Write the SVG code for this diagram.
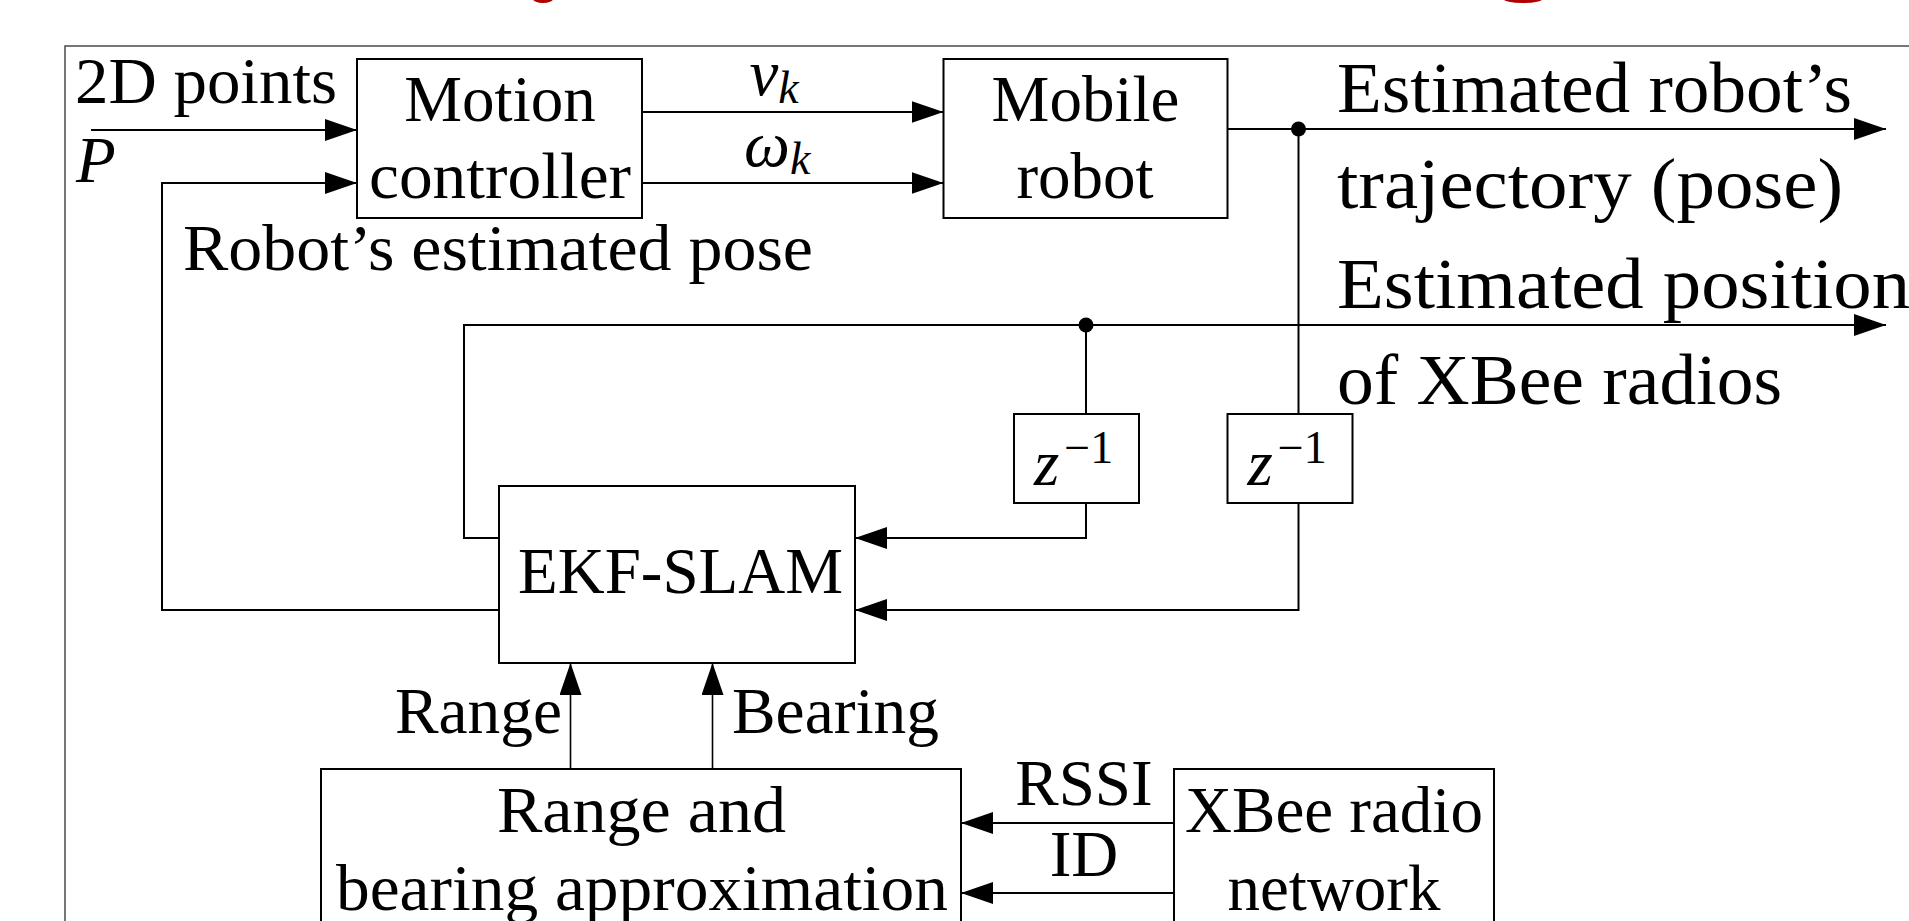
<svg xmlns="http://www.w3.org/2000/svg" width="1909" height="921" viewBox="0 0 1909 921">
<style>
text{font-family:"Liberation Serif","DejaVu Serif",serif;fill:#000;font-size:65px}
.big{font-size:72px}
.sub{font-size:46px}
.it{font-style:italic}
.up{font-style:normal}
.mid{text-anchor:middle}
.box{fill:#fff;stroke:#000;stroke-width:2}
.wire{fill:none;stroke:#000;stroke-width:2}
.thin{fill:none;stroke:#000;stroke-width:1.6}
</style>
<defs>
<marker id="arr" markerUnits="userSpaceOnUse" markerWidth="32" markerHeight="22" refX="32" refY="11" orient="auto" viewBox="0 0 32 22">
<path d="M0,0 L32,11 L0,22 z" fill="#000"/>
</marker>
</defs>
<rect width="1909" height="921" fill="#fff"/>
<g id="title-fragments">
<ellipse cx="543" cy="-1" rx="10" ry="4" fill="#b00000"/>
<ellipse cx="1523" cy="-1.5" rx="20" ry="4.5" fill="#b00000"/>
</g>
<rect id="frame" x="65" y="46" width="1900" height="920" fill="none" stroke="#555" stroke-width="1.6"/>
<g id="connectors">
<path class="wire" d="M91,130 H357" marker-end="url(#arr)"/>
<path class="wire" d="M499,610 H162 V183 H357" marker-end="url(#arr)"/>
<path class="wire" d="M642,112 H943.5" marker-end="url(#arr)"/>
<path class="wire" d="M642,183 H943.5" marker-end="url(#arr)"/>
<path class="wire" d="M1228,129 H1886" marker-end="url(#arr)"/>
<path class="wire" d="M1298.5,129 V414"/>
<path class="wire" d="M1298.5,503 V610 H855" marker-end="url(#arr)"/>
<path class="wire" d="M499,538 H464 V325 H1886" marker-end="url(#arr)"/>
<path class="wire" d="M1086,325 V414"/>
<path class="wire" d="M1086,503 V538 H855" marker-end="url(#arr)"/>
<path class="thin" d="M570.5,769 V663" marker-end="url(#arr)"/>
<path class="thin" d="M712.5,769 V663" marker-end="url(#arr)"/>
<path class="wire" d="M1174,823 H961" marker-end="url(#arr)"/>
<path class="wire" d="M1174,893 H961" marker-end="url(#arr)"/>
<circle cx="1298.5" cy="129" r="7.5" fill="#000"/>
<circle cx="1086" cy="325" r="7.5" fill="#000"/>
</g>
<g id="labels">
<text x="75" y="103" textLength="262" lengthAdjust="spacingAndGlyphs">2D points</text>
<text class="it" x="76" y="182" font-size="68">P</text>
<text class="it" x="749.5" y="95">ν<tspan class="sub" dy="8">k</tspan></text>
<text class="it" x="744" y="166">ω<tspan class="sub" dy="8">k</tspan></text>
<text x="183" y="270" textLength="630" lengthAdjust="spacingAndGlyphs">Robot’s estimated pose</text>
<text class="big" x="1337" y="112" textLength="515" lengthAdjust="spacingAndGlyphs">Estimated robot’s</text>
<text class="big" x="1337" y="208" textLength="506" lengthAdjust="spacingAndGlyphs">trajectory (pose)</text>
<text class="big" x="1337" y="308" textLength="573" lengthAdjust="spacingAndGlyphs">Estimated position</text>
<text class="big" x="1337" y="404" textLength="445" lengthAdjust="spacingAndGlyphs">of XBee radios</text>
<text x="395" y="733" textLength="167" lengthAdjust="spacingAndGlyphs">Range</text>
<text x="732" y="733" textLength="207" lengthAdjust="spacingAndGlyphs">Bearing</text>
<text class="mid" x="1084" y="805">RSSI</text>
<text class="mid" x="1084" y="876">ID</text>
</g>
<g id="motion-controller">
<rect class="box" x="357" y="59" width="285" height="159"/>
<text class="mid" x="500" y="121">Motion</text>
<text class="mid" x="500" y="198" textLength="262" lengthAdjust="spacingAndGlyphs">controller</text>
</g>
<g id="mobile-robot">
<rect class="box" x="943.5" y="59" width="284" height="159"/>
<text class="mid" x="1085.5" y="121">Mobile</text>
<text class="mid" x="1085" y="198">robot</text>
</g>
<g id="delay-1">
<rect class="box" x="1014" y="414" width="125" height="89"/>
<text class="it" x="1034" y="485" font-size="72">z<tspan class="sub up" dx="5" dy="-22">−1</tspan></text>
</g>
<g id="delay-2">
<rect class="box" x="1227.5" y="414" width="125" height="89"/>
<text class="it" x="1247.5" y="485" font-size="72">z<tspan class="sub up" dx="5" dy="-22">−1</tspan></text>
</g>
<g id="ekf-slam">
<rect class="box" x="499" y="486" width="356" height="177"/>
<text x="518" y="593" textLength="325" lengthAdjust="spacingAndGlyphs">EKF-SLAM</text>
</g>
<g id="range-bearing">
<rect class="box" x="321" y="769" width="640" height="190"/>
<text class="mid" x="641.5" y="832" textLength="289" lengthAdjust="spacingAndGlyphs">Range and</text>
<text class="mid" x="642" y="910" textLength="612" lengthAdjust="spacingAndGlyphs">bearing approximation</text>
</g>
<g id="xbee-network">
<rect class="box" x="1174" y="769" width="320" height="190"/>
<text class="mid" x="1334" y="832">XBee radio</text>
<text class="mid" x="1334" y="910">network</text>
</g>
</svg>
